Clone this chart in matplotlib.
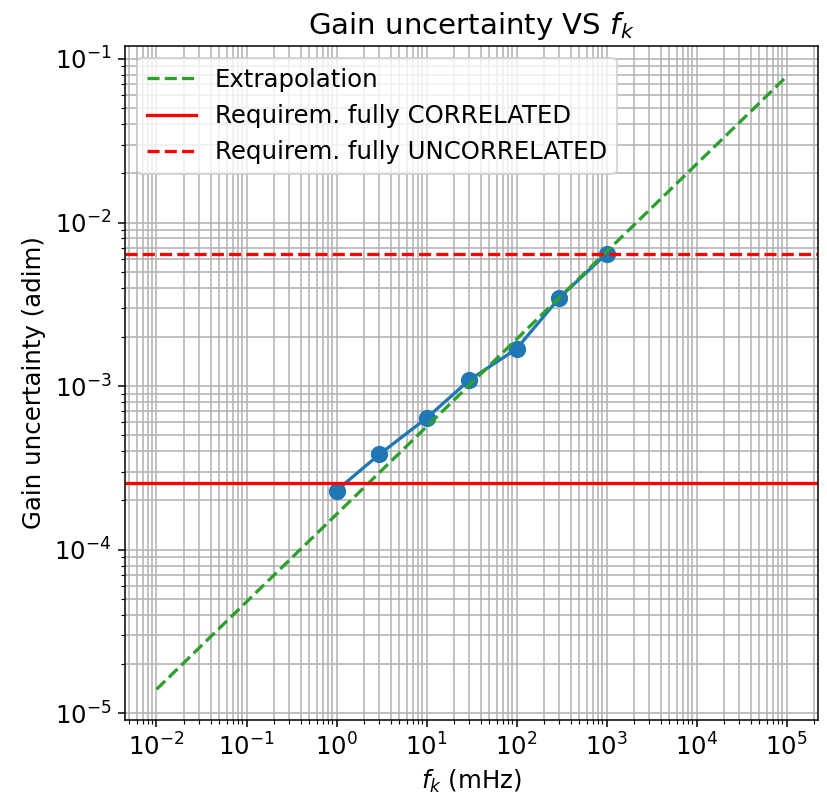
import numpy as np
import matplotlib
matplotlib.use("Agg")
import matplotlib.pyplot as plt

# measured gain uncertainty vs knee frequency
fk = [1, 3, 10, 30, 100, 300, 1000]
gain_unc = [2.30e-4, 3.83e-4, 6.37e-4, 1.09e-3, 1.69e-3, 3.47e-3, 6.45e-3]

# extrapolated power law (end points)
fk_extrap = [1e-2, 1e5]
gain_extrap = [1.40e-5, 7.8e-2]

req_corr = 2.55e-4
req_uncorr = 6.45e-3

plt.rcParams["font.size"] = 12.7

fig = plt.figure(figsize=(827/138, 806/138), dpi=138)
ax = fig.add_subplot(111)
fig.subplots_adjust(left=125/827, right=818/827, top=1-46/806, bottom=1-720/806)

ax.plot(fk, gain_unc, "o-", color="#1f77b4", markersize=8, linewidth=1.7)
ax.plot(fk_extrap, gain_extrap, "--", color="#2ca02c", linewidth=1.7, label="Extrapolation")
ax.axhline(req_corr, color="red", linewidth=1.7, label="Requirem. fully CORRELATED")
ax.axhline(req_uncorr, color="red", linestyle="--", linewidth=1.7,
           label="Requirem. fully UNCORRELATED")

ax.set_xscale("log")
ax.set_yscale("log")
ax.set_xticks([10.0**k for k in range(-2, 6)])
ax.grid(True, which="both")
ax.set_title("Gain uncertainty VS $f_k$")
ax.set_xlabel("$f_k$ (mHz)")
ax.set_ylabel("Gain uncertainty (adim)")
ax.legend(loc="upper left")

plt.savefig("out.png", dpi=138)
